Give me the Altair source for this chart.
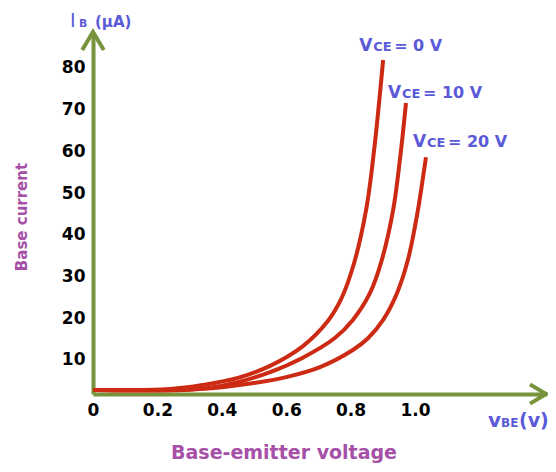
import altair as alt
import pandas as pd

# ---- data ----
series = ["VCE = 0 V", "VCE = 10 V", "VCE = 20 V"]
vbe_0 = [0, 0.24, 0.34, 0.45, 0.55, 0.65, 0.73, 0.77, 0.81, 0.848, 0.873, 0.901]
ib_0 = [2.8, 3.05, 4.0, 5.7, 8.6, 13.2, 19.4, 24.5, 33.0, 45.9, 60.3, 81.9]
vbe_10 = [0, 0.33, 0.45, 0.55, 0.65, 0.75, 0.807, 0.86, 0.897, 0.932, 0.953, 0.972]
ib_10 = [2.8, 3.05, 4.7, 7.1, 10.5, 15.2, 19.6, 26.0, 34.0, 45.9, 57.9, 71.6]
vbe_20 = [0, 0.33, 0.50, 0.60, 0.705, 0.807, 0.854, 0.901, 0.944, 0.978, 1.009, 1.034]
ib_20 = [2.8, 3.05, 4.5, 5.9, 8.3, 12.4, 15.2, 19.6, 26.0, 34.0, 45.9, 58.6]
x_ticks = [0, 0.2, 0.4, 0.6, 0.8, 1.0]
y_ticks = [10, 20, 30, 40, 50, 60, 70, 80]
label_sub = ["= 0 V", "= 10 V", "= 20 V"]

X_MAX = 1.4068
Y_MIN = 1.85
Y_MAX = 88.6

GREEN = "#77933c"
RED = "#cc2a12"
BLUE = "#5a5ad8"
PURPLE = "#a650a8"
BOLD_FONT = "DejaVu Sans"

rows = []
for s, xs, ys in zip(series, [vbe_0, vbe_10, vbe_20], [ib_0, ib_10, ib_20]):
    for k, (xv, yv) in enumerate(zip(xs, ys)):
        rows.append({"series": s, "order": k, "vbe": xv, "ib": yv})
df = pd.DataFrame(rows)
ends = df.loc[df.groupby("series")["order"].idxmax()].reset_index(drop=True)
ends["sub"] = label_sub

xscale = alt.Scale(domain=[0, X_MAX], nice=False, zero=False)
yscale = alt.Scale(domain=[Y_MIN, Y_MAX], nice=False, zero=False)

axis_common = dict(
    domainColor=GREEN, domainWidth=4, ticks=False, grid=False,
    labelFont=BOLD_FONT, labelFontWeight="bold", labelFontSize=17,
    labelColor="black", labelPadding=8, labelOverlap=False, title=None,
)

lines = alt.Chart(df).mark_line(color=RED, strokeWidth=4, interpolate="catmull-rom").encode(
    x=alt.X("vbe:Q", scale=xscale,
            axis=alt.Axis(values=x_ticks, labelFlush=False,
                          labelExpr="datum.value == 0 ? '0' : format(datum.value, '.1f')",
                          **axis_common)),
    y=alt.Y("ib:Q", scale=yscale, axis=alt.Axis(values=y_ticks, **axis_common)),
    detail="series:N",
    order="order:Q",
)

# arrow heads at the ends of the axes
arrow_y = alt.Chart(pd.DataFrame({"vbe": [0], "ib": [Y_MAX]})).mark_point(
    shape="M-0.6,1L0,0L0.6,1", size=1296, filled=False, stroke=GREEN,
    strokeWidth=4, opacity=1, strokeJoin="miter").encode(
    x=alt.X("vbe:Q", scale=xscale), y=alt.Y("ib:Q", scale=yscale))
arrow_x = alt.Chart(pd.DataFrame({"vbe": [X_MAX], "ib": [Y_MIN]})).mark_point(
    shape="M-1,-0.6L0,0L-1,0.6", size=1024, filled=False, stroke=GREEN,
    strokeWidth=4, opacity=1, strokeJoin="miter").encode(
    x=alt.X("vbe:Q", scale=xscale), y=alt.Y("ib:Q", scale=yscale))

# curve labels
label_layers = []
offsets = [(-24, -9), (-18, -5), (-13, -10)]
for s, (ox, oy) in zip(series, offsets):
    src = alt.Chart(ends).transform_filter(alt.datum.series == s)
    enc = dict(x=alt.X("vbe:Q", scale=xscale), y=alt.Y("ib:Q", scale=yscale))
    label_layers.append(src.mark_text(text="V", font=BOLD_FONT, fontWeight="bold", fontSize=17,
                                      color=BLUE, align="left", baseline="alphabetic",
                                      dx=ox, dy=oy).encode(**enc))
    label_layers.append(src.mark_text(text="CE", font=BOLD_FONT, fontWeight="bold", fontSize=13,
                                      color=BLUE, align="left", baseline="alphabetic",
                                      dx=ox + 14, dy=oy).encode(**enc))
    label_layers.append(src.mark_text(font=BOLD_FONT, fontWeight="bold", fontSize=16,
                                      color=BLUE, align="left", baseline="alphabetic",
                                      dx=ox + 35, dy=oy).encode(text="sub:N", **enc))


def txt(s, x, y, size, color, weight="bold", angle=0, align="left", baseline="alphabetic", font=BOLD_FONT):
    return alt.Chart(pd.DataFrame({"t": [s]})).mark_text(
        font=font, fontWeight=weight, fontSize=size, color=color, angle=angle,
        align=align, baseline=baseline).encode(text="t:N", x=alt.value(x), y=alt.value(y))


titles = [
    txt("I", -23, -5, 19, BLUE, weight="normal"),
    txt("B", -14, -5, 11, BLUE),
    txt("(µA)", 2, -5, 15, BLUE),
    txt("v", 395, 395, 20, BLUE),
    txt("BE", 408, 395, 12, BLUE),
    txt("(v)", 426, 395, 19, BLUE),
    txt("Base-emitter voltage", 191, 427, 19, PURPLE, align="center"),
    txt("Base current", -66, 185, 15, PURPLE, angle=270, align="center"),
]

chart = alt.layer(lines, arrow_y, arrow_x, *label_layers, *titles).properties(
    width=453, height=362,
    padding={"left": 85, "top": 24, "right": 2, "bottom": 70},
    autosize=alt.AutoSizeParams(type="none"),
    background="white",
).configure_view(stroke=None)

chart.save("out.html", embed_options={"renderer": "svg", "actions": False})
